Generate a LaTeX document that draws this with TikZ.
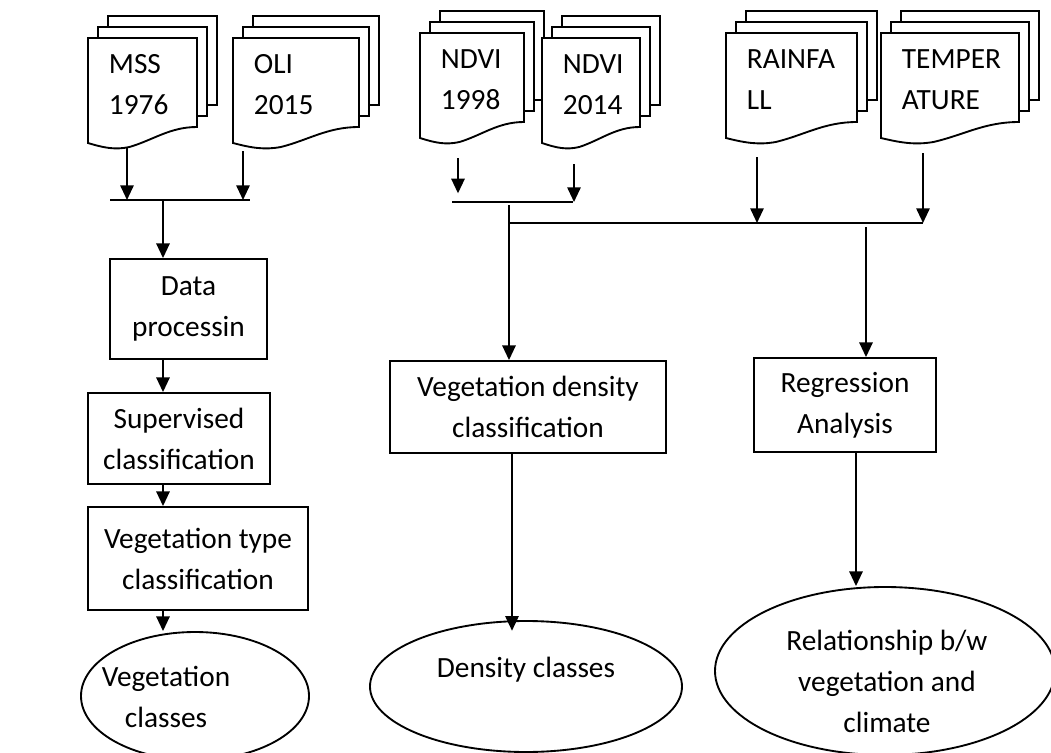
\documentclass[tikz,border=0pt]{standalone}
\usepackage{fontspec}
\setmainfont{Carlito}
\usetikzlibrary{arrows.meta, shapes.geometric}

\begin{document}
\begin{tikzpicture}[x=0.75pt, y=-0.75pt, line width=1.4pt,
        >={Triangle[length=11pt, width=10pt]},
        txt/.style={font=\fontsize{22pt}{30.75pt}\selectfont},
        box/.style={draw, rectangle, txt, align=center, inner sep=0pt},
        oval/.style={draw, ellipse, inner sep=0pt},
        sheet/.style={draw, fill=white, line join=miter}]
    \def\px{0.75pt}
    \useasboundingbox (0,0) rectangle (1051,753);
    % stacked documents: name, left, top, width, text, start of arrow
    \newcommand{\multidoc}[6]{
        \draw[sheet] (#2+20, #3-22) rectangle (#2+#4+20, #3+67);
        \draw[sheet] (#2+10, #3-11) rectangle (#2+#4+10, #3+78);
        \draw[sheet] (#2, #3) -- (#2+#4, #3) -- (#2+#4, #3+89)
            .. controls (#2+0.75*#4, #3+89) and (#2+0.6*#4, #3+102) .. (#2+0.38*#4, #3+109)
            .. controls (#2+0.25*#4, #3+112) and (#2+0.15*#4, #3+110) .. (#2, #3+105) -- cycle;
        % base of a two-line node is its last line
        \node[txt, align=left, anchor=base west, inner sep=0pt] (#1) at (#2+20, #3+76) {#5};
        \coordinate (#1-b) at #6;
    }
    \multidoc{mss}{88}{38}{109}{MSS\\1976}{(127,148)}
    \multidoc{oli}{233}{38}{126}{OLI\\2015}{(243,151)}
    \multidoc{ndvia}{420}{33}{104}{NDVI\\1998}{(458,158)}
    \multidoc{ndvib}{542}{38}{98}{NDVI\\2014}{(574,164)}
    \multidoc{rain}{726}{33}{131}{RAINFA\\LL}{(757,157)}
    \multidoc{temp}{881}{33}{138}{TEMPER\\ATURE}{(923,153)}

    % joints
    \coordinate (barL-w) at (110,200);
    \coordinate (barL-e) at (250,200);
    \coordinate (barM-w) at (452,202);
    \coordinate (barM-e) at (573,202);
    \coordinate (barR-w) at (509,223);
    \coordinate (barR-e) at (923,223);
    \coordinate (colL) at (163,200);
    \coordinate (colM) at (509,205);
    \coordinate (colMb) at (512,0);
    \coordinate (colR) at (866,227);
    \coordinate (colRb) at (856,0);

    % left column
    \node[box, minimum width=157*\px, minimum height=100*\px] (data) at (188.5,309) {Data\\processin};
    \node[box, minimum width=182*\px, minimum height=91*\px] (sup) at (179,438.5) {Supervised\\classification};
    \node[box, minimum width=220*\px, minimum height=103*\px] (vegtype) at (198,558.5) {Vegetation type\\classification};
    \node[oval, minimum width=228*\px, minimum height=128*\px] (vegcls) at (195,696) {};
    \node[txt, align=center, anchor=base] (vegclstxt) at (166,727) {Vegetation\\classes};

    % middle column
    \node[box, minimum width=276*\px, minimum height=92*\px] (dens) at (528,407) {Vegetation density\\classification};
    \node[oval, minimum width=312*\px, minimum height=131*\px] (densell) at (526,686.5) {};
    \node[txt, anchor=base] (denstxt) at (526,677) {Density classes};

    % right column
    \node[box, minimum width=182*\px, minimum height=94*\px] (regr) at (845,405) {Regression\\Analysis};
    \node[oval, minimum width=340*\px, minimum height=168*\px] (relell) at (885,671) {};
    \node[txt, align=center, anchor=base] (reltxt) at (887,732) {Relationship b/w\\vegetation and\\climate};

    \draw (barL-w) -- (barL-e);
    \draw[->] (mss-b) -- (mss-b |- barL-w);
    \draw[->] (oli-b) -- (oli-b |- barL-w);
    \draw[->] (colL) -- (data.north -| colL);
    \draw[->] (data.south -| colL) -- (sup.north -| colL);
    \draw[->] (sup.south -| colL) -- (vegtype.north -| colL);
    \draw[->] (vegtype.south -| colL) -- (vegcls.north -| colL);

    \draw (barM-w) -- (barM-e);
    \draw[->, shorten >=6.5pt] (ndvia-b) -- (ndvia-b |- barM-w);
    \draw[->] (ndvib-b) -- (ndvib-b |- barM-w);
    \draw[->] (colM) -- (dens.north -| colM);
    \draw[->, shorten >=-8pt] (dens.south -| colMb) -- (densell.north -| colMb);

    \draw (barR-w) -- (barR-e);
    \draw[->] (rain-b) -- (rain-b |- barR-w);
    \draw[->] (temp-b) -- (temp-b |- barR-w);
    \draw[->] (colR) -- (regr.north -| colR);
    \draw[->] (regr.south -| colRb) -- (relell.north -| colRb);
\end{tikzpicture}
\end{document}
